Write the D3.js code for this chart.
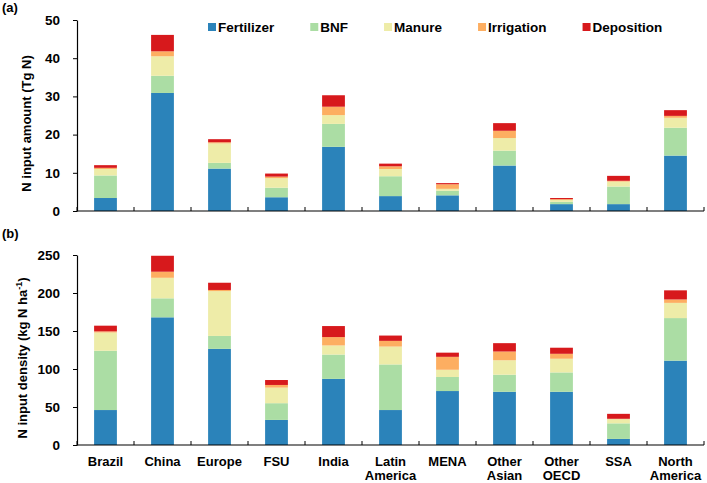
<!DOCTYPE html>
<html>
<head>
<meta charset="utf-8">
<script src="https://cdn.jsdelivr.net/npm/d3@7"></script>
<style>
  body { margin: 0; background: #fff; }
  svg text { font-family: "Liberation Sans", Arial, sans-serif; font-weight: bold; font-size: 13px; fill: #000; }
</style>
</head>
<body>
<svg width="707" height="483"></svg>
<script>
// categories and series
const regions = ['Brazil', 'China', 'Europe', 'FSU', 'India', 'Latin America', 'MENA',
  'Other Asian', 'Other OECD', 'SSA', 'North America'];
const sources = ['Fertilizer', 'BNF', 'Manure', 'Irrigation', 'Deposition'];
const colors = ['#2b83ba', '#abdda4', '#eeeca8', '#fdae61', '#d7191c'];

// (a) N input amount, Tg N
const amtFertilizer = [3.4, 30.9, 11.1, 3.6, 16.8, 3.9, 4.1, 11.9, 1.8, 1.8, 14.5];
const amtBNF        = [5.9, 4.5, 1.5, 2.5, 6.0, 5.2, 1.2, 3.9, 0.6, 4.6, 7.3];
const amtManure     = [1.7, 5.1, 5.1, 2.5, 2.3, 1.9, 0.5, 3.3, 0.5, 1.3, 2.6];
const amtIrrigation = [0.3, 1.3, 0.3, 0.4, 2.2, 0.7, 1.2, 1.9, 0.2, 0.2, 0.5];
const amtDeposition = [0.7, 4.3, 0.8, 0.8, 3.0, 0.7, 0.3, 2.0, 0.3, 1.3, 1.5];

// (b) N input density, kg N ha-1
const denFertilizer = [46, 168, 126.5, 33, 87, 46, 71, 70, 70, 8, 111];
const denBNF        = [78, 25, 17, 22, 32, 60, 18.5, 22.5, 25.5, 20.5, 56];
const denManure     = [24, 27, 59, 20.5, 12, 23.5, 9.5, 19, 18, 5.5, 20];
const denIrrigation = [1.5, 8, 1.5, 3.5, 11, 7.5, 17, 11.5, 6.5, 0.5, 4.5];
const denDeposition = [7.5, 21, 9.5, 6.5, 14.5, 7, 5.5, 11, 8, 6.5, 12];

const yTicksA = [0, 10, 20, 30, 40, 50];
const yTicksB = [0, 50, 100, 150, 200, 250];

const svg = d3.select('svg');
const xr = [77, 704];

const x = d3.scaleBand()
    .domain(regions)
    .range(xr)
    .paddingInner(0.6)
    .paddingOuter(0.3);

function buildRows(series) {
  return regions.map((r, i) => {
    const row = {region: r};
    sources.forEach((s, j) => row[s] = series[j][i]);
    return row;
  });
}

function drawPanel(opts) {
  const g = svg.append('g');
  const y = d3.scaleLinear().domain(opts.domain).range([opts.y0, opts.y1]);

  const stacked = d3.stack().keys(sources)(buildRows(opts.series));

  g.selectAll('g.layer')
    .data(stacked)
    .join('g')
    .attr('class', 'layer')
    .attr('fill', (d, i) => colors[i])
    .selectAll('rect')
    .data(d => d)
    .join('rect')
    .attr('x', d => x(d.data.region))
    .attr('width', x.bandwidth())
    .attr('y', d => y(d[1]))
    .attr('height', d => y(d[0]) - y(d[1]));

  // y axis
  const yAxis = g.append('g')
    .attr('transform', `translate(${xr[0]},0)`)
    .call(d3.axisLeft(y).tickValues(opts.ticks).tickSize(4).tickSizeOuter(0).tickPadding(13));
  yAxis.select('.domain').attr('stroke', '#000').attr('stroke-width', 1.2);
  yAxis.selectAll('.tick line').attr('stroke', '#000');
  yAxis.selectAll('text').style('font-size', '13.5px');

  // x axis line and inward ticks at category boundaries
  g.append('line')
    .attr('x1', xr[0]).attr('x2', xr[1])
    .attr('y1', opts.y0).attr('y2', opts.y0)
    .attr('stroke', '#000').attr('stroke-width', 1.2);
  const bounds = d3.range(regions.length + 1).map(i => xr[0] + i * x.step());
  g.selectAll('line.xt')
    .data(bounds)
    .join('line')
    .attr('class', 'xt')
    .attr('x1', d => d).attr('x2', d => d)
    .attr('y1', opts.y0).attr('y2', opts.y0 - 4)
    .attr('stroke', '#000');

  // axis title
  const t = g.append('text')
    .attr('transform', `translate(${opts.titleX},${(opts.y0 + opts.y1) / 2 + 8}) rotate(-90)`)
    .attr('text-anchor', 'middle');
  opts.title(t);

  // panel label
  g.append('text').attr('x', 2).attr('y', opts.labelY).text(opts.label);
  return y;
}

drawPanel({
  domain: [0, 50], y0: 211, y1: 20, ticks: yTicksA,
  series: [amtFertilizer, amtBNF, amtManure, amtIrrigation, amtDeposition],
  titleX: 31, label: '(a)', labelY: 12,
  title: t => t.text('N input amount (Tg N)')
});

drawPanel({
  domain: [0, 250], y0: 445, y1: 255, ticks: yTicksB,
  series: [denFertilizer, denBNF, denManure, denIrrigation, denDeposition],
  titleX: 27, label: '(b)', labelY: 238,
  title: t => {
    t.append('tspan').text('N input density (kg N ha');
    t.append('tspan').attr('dy', -5).style('font-size', '9px').text('-1');
    t.append('tspan').attr('dy', 5).text(')');
  }
});

// category labels under bottom panel
const labG = svg.append('g');
regions.forEach(r => {
  const words = r.split(' ');
  const txt = labG.append('text')
    .attr('x', x(r) + x.bandwidth() / 2)
    .attr('text-anchor', 'middle');
  words.forEach((w, i) => {
    txt.append('tspan')
      .attr('x', x(r) + x.bandwidth() / 2)
      .attr('y', 466 + i * 13.5)
      .text(w);
  });
});

// legend, flowing left to right
const legend = svg.append('g').attr('transform', 'translate(208,0)');
let lx = 0;
sources.forEach((s, i) => {
  const item = legend.append('g').attr('transform', `translate(${lx},0)`);
  item.append('rect').attr('x', 0).attr('y', 23).attr('width', 8).attr('height', 8).attr('fill', colors[i]);
  const tx = item.append('text').attr('x', 10).attr('y', 32).style('font-size', '13.5px').text(s);
  lx += 10 + tx.node().getComputedTextLength() + 36;
});
</script>
</body>
</html>
